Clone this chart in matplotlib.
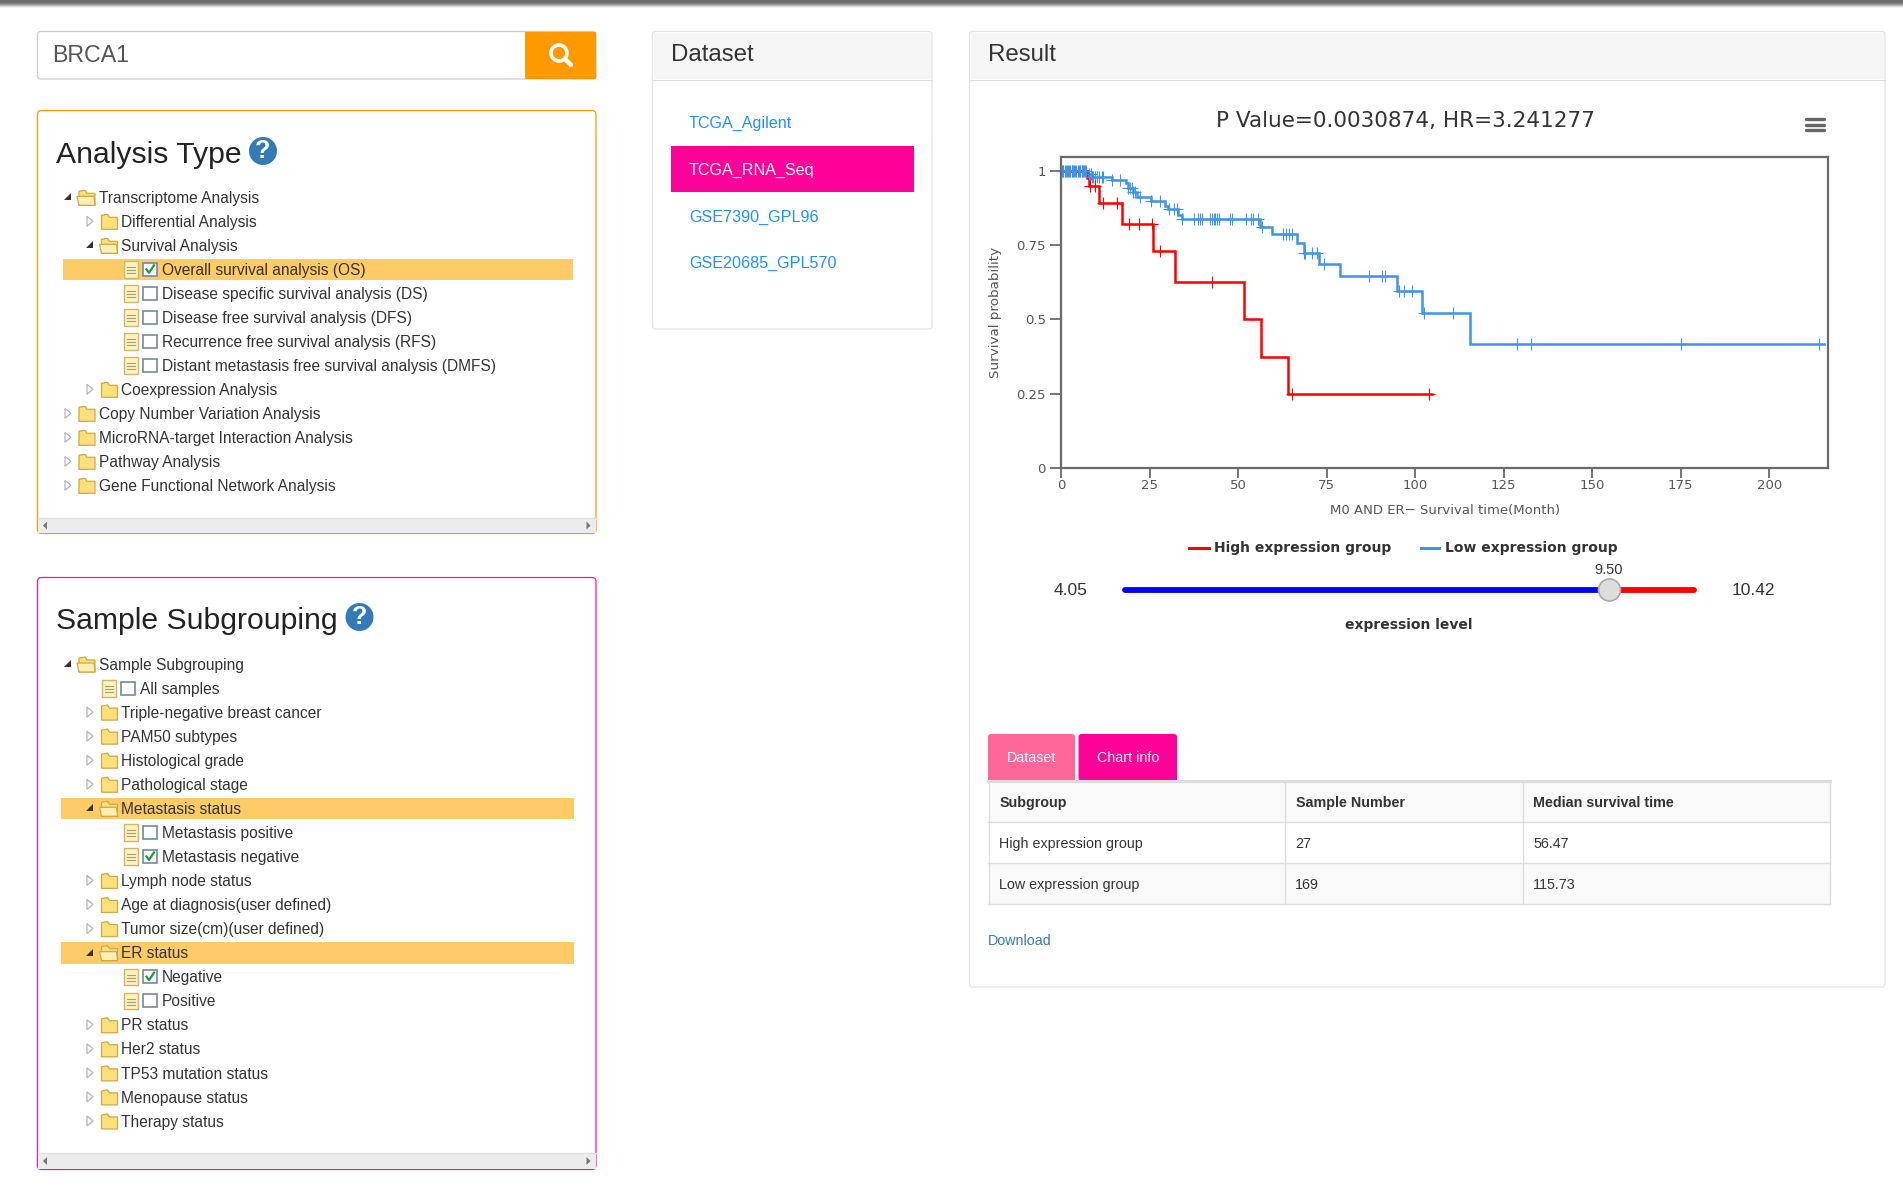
import matplotlib
matplotlib.use("Agg")
import matplotlib.pyplot as plt
from matplotlib.patches import Rectangle, FancyBboxPatch, Polygon, Circle

W, H = 1903, 1188

# survival curves, (month, probability)
high_t = [0, 7.25, 7.8, 10.7, 17.3, 26.0, 32.2, 51.8, 56.4, 64.2, 104.7]
high_s = [1.0, 0.974, 0.949, 0.890, 0.821, 0.730, 0.625, 0.500, 0.375, 0.250, 0.250]
high_cens_t = [8.3, 9.7, 12.0, 15.7, 19.3, 22.0, 25.8, 28.0, 42.7, 65.3, 103.8]

low_t = [0, 7.5, 8.6, 14.3, 18.3, 19.0, 20.2, 21.6, 25.4, 29.4, 30.3, 33.0, 34.2,
         56.2, 59.7, 66.6, 68.5, 73.0, 78.7, 95.0, 102.0, 115.5, 215.4]
low_s = [1.0, 0.990, 0.980, 0.969, 0.957, 0.941, 0.930, 0.910, 0.898, 0.882, 0.870, 0.852, 0.837,
         0.812, 0.786, 0.756, 0.722, 0.685, 0.646, 0.596, 0.521, 0.418, 0.418]
low_cens_t = [0.1, 0.3, 0.5, 0.7, 1.0, 1.3, 1.6, 2.0, 2.3, 2.6, 3.0, 3.2, 3.5, 3.8, 4.0, 4.3, 4.7, 5.0, 5.3,
              5.5, 5.8, 6.0, 6.3, 6.6, 6.8, 7.2,
              8.0, 8.4, 8.8, 9.1, 9.6, 10.3, 10.8, 11.5, 12.0, 14.3, 16.7, 19.0, 19.5, 20.0, 20.4, 20.9, 22.3,
              25.4, 28.0, 30.6, 32.0, 32.9, 34.3, 37.6, 38.6, 39.3, 39.8, 42.1, 42.6, 43.1, 43.5,
              44.0, 44.5, 47.6, 48.2, 52.2, 53.6, 54.3, 55.7, 56.9, 62.6, 63.6, 64.5, 65.3, 68.5,
              69.0, 71.0, 72.4, 74.4, 87.0, 90.6, 91.5, 95.4, 97.0, 99.1, 102.5, 110.7, 128.8,
              132.8, 175.0, 214.1]

x_ticks = [0, 25, 50, 75, 100, 125, 150, 175, 200]
y_ticks = [0, 0.25, 0.5, 0.75, 1]
y_tick_labels = ["0", "0.25", "0.5", "0.75", "1"]

# tree rows: (level, kind, text, highlighted)
analysis_rows = [
    (0, "open", "Transcriptome Analysis", False),
    (1, "closed", "Differential Analysis", False),
    (1, "open", "Survival Analysis", False),
    (2, "on", "Overall survival analysis (OS)", True),
    (2, "off", "Disease specific survival analysis (DS)", False),
    (2, "off", "Disease free survival analysis (DFS)", False),
    (2, "off", "Recurrence free survival analysis (RFS)", False),
    (2, "off", "Distant metastasis free survival analysis (DMFS)", False),
    (1, "closed", "Coexpression Analysis", False),
    (0, "closed", "Copy Number Variation Analysis", False),
    (0, "closed", "MicroRNA-target Interaction Analysis", False),
    (0, "closed", "Pathway Analysis", False),
    (0, "closed", "Gene Functional Network Analysis", False),
]
sample_rows = [
    (0, "open", "Sample Subgrouping", False),
    (1, "off", "All samples", False),
    (1, "closed", "Triple-negative breast cancer", False),
    (1, "closed", "PAM50 subtypes", False),
    (1, "closed", "Histological grade", False),
    (1, "closed", "Pathological stage", False),
    (1, "open", "Metastasis status", True),
    (2, "off", "Metastasis positive", False),
    (2, "on", "Metastasis negative", False),
    (1, "closed", "Lymph node status", False),
    (1, "closed", "Age at diagnosis(user defined)", False),
    (1, "closed", "Tumor size(cm)(user defined)", False),
    (1, "open", "ER status", True),
    (2, "on", "Negative", False),
    (2, "off", "Positive", False),
    (1, "closed", "PR status", False),
    (1, "closed", "Her2 status", False),
    (1, "closed", "TP53 mutation status", False),
    (1, "closed", "Menopause status", False),
    (1, "closed", "Therapy status", False),
]
datasets = ["TCGA_Agilent", "TCGA_RNA_Seq", "GSE7390_GPL96", "GSE20685_GPL570"]
table_head = ["Subgroup", "Sample Number", "Median survival time"]
table_rows = [["High expression group", "27", "56.47"], ["Low expression group", "169", "115.73"]]

plt.rcParams["font.family"] = ["Liberation Sans", "DejaVu Sans"]

fig = plt.figure(figsize=(W / 100, H / 100), dpi=100)
page = fig.add_axes([0, 0, 1, 1])
page.set_xlim(0, W)
page.set_ylim(H, 0)
page.axis("off")


def box(x0, y0, x1, y1, fc="white", ec="none", lw=1, z=1, r=0):
    if r:
        p = FancyBboxPatch((x0, y0), x1 - x0, y1 - y0, boxstyle="round,pad=0,rounding_size=%g" % r,
                           fc=fc, ec=ec, lw=lw, zorder=z)
    else:
        p = Rectangle((x0, y0), x1 - x0, y1 - y0, fc=fc, ec=ec, lw=lw, zorder=z)
    page.add_patch(p)


def label(x, y, s, size=11, color="#333333", ha="left", **kw):
    page.text(x, y + 1.2, s, fontsize=size, color=color, ha=ha, va="center", zorder=5, **kw)


def arrow(x, y, is_open):
    if is_open:
        page.add_patch(Polygon([(x - 4, y + 3), (x + 3, y + 3), (x + 3, y - 4)], fc="#333333", ec="none", zorder=4))
    else:
        page.add_patch(Polygon([(x - 3, y - 5), (x + 3, y), (x - 3, y + 5)], fc="white", ec="#b5b5b5", lw=0.9, zorder=4))


def folder(x, y, is_open):
    page.add_patch(Polygon([(x - 8, y + 8), (x - 8, y - 6), (x - 2, y - 7), (x, y - 4), (x + 8, y - 4), (x + 8, y + 8)],
                           fc="#fde07a", ec="#cfa848", lw=0.9, zorder=4))
    if is_open:
        page.add_patch(Polygon([(x - 8, y + 8), (x - 10, y - 1), (x + 7, y - 1), (x + 8, y + 8)],
                               fc="#fdf0b0", ec="#cfa848", lw=0.9, zorder=4))


def doc(x, y):
    box(x - 7, y - 8, x + 7, y + 8.5, fc="#fdf3bb", ec="#cdb76a", lw=1, z=4)
    for dy in (-2, 1, 4):
        page.plot([x - 4, x + 4], [y + dy, y + dy], color="#a0a080", lw=0.8, zorder=5)


def checkbox(x, y, checked):
    box(x - 7, y - 6.5, x + 7, y + 6.5, fc="white", ec="#6f8aa8", lw=1.2, z=4)
    if checked:
        page.plot([x - 3.5, x - 1, x + 4], [y, y + 3.5, y - 4], color="#1d9a3c", lw=1.6, zorder=5)


def tree(rows, top, step, hl_x0, hl_x1):
    for i, (level, kind, text, hl) in enumerate(rows):
        y = top + i * step
        if hl:
            box(hl_x0, y - 10.5, hl_x1, y + 11, fc="#fecb67", z=2)
        if level == 2 or kind in ("on", "off"):
            dx = 0 if level == 2 else -22
            doc(130.8 + dx, y)
            checkbox(150 + dx, y, kind == "on")
            label(162 + dx, y, text, size=11.2)
        else:
            ax_x, fx, tx = (68, 87, 99) if level == 0 else (90, 109.5, 121)
            arrow(ax_x, y, kind == "open")
            folder(fx, y, kind == "open")
            label(tx, y, text, size=11.2)


def scrollbar(x0, x1, y0, y1):
    box(x0, y0, x1, y1, fc="#ececec", z=2)
    page.plot([x0, x1], [y0, y0], color="#e0e0e0", lw=1, zorder=3)
    page.add_patch(Polygon([(x0 + 5, (y0 + y1) / 2), (x0 + 9, (y0 + y1) / 2 - 4), (x0 + 9, (y0 + y1) / 2 + 4)], fc="#777777", zorder=3))
    page.add_patch(Polygon([(x1 - 5, (y0 + y1) / 2), (x1 - 9, (y0 + y1) / 2 - 4), (x1 - 9, (y0 + y1) / 2 + 4)], fc="#777777", zorder=3))


def help_icon(x, y):
    page.add_patch(Circle((x, y), 14, fc="#337ab7", ec="none", zorder=4))
    page.text(x, y, "?", color="white", fontsize=18, fontweight="bold", ha="center", va="center", zorder=5)


# shadow under the page header
for i, c in enumerate(["#6a6a6a", "#6a6a6a", "#707070", "#808080", "#999999", "#b8b8b8", "#d8d8d8", "#f0f0f0"]):
    box(0, i, W, i + 1, fc=c, z=1)

# search bar
box(37.5, 31.5, 596, 79, fc="white", ec="#cccccc", lw=0.9, r=3)
box(525, 32, 595.5, 78.5, fc="#ff9900", z=2)
label(52, 54.5, "BRCA1", size=16.7, color="#555555")
page.add_patch(Circle((559, 53), 8, fc="none", ec="white", lw=2.6, zorder=4))
page.plot([565, 571], [59, 65], color="white", lw=3.2, zorder=4, solid_capstyle="round")

# analysis type panel
box(37.5, 110.5, 596, 533.5, fc="white", ec="#ff9900", lw=0.9, r=4)
label(56, 154, "Analysis Type", size=21.7, color="#222222")
help_icon(263, 151)
tree(analysis_rows, 197.3, 24.0, 63, 573)
scrollbar(38, 595.5, 518, 533)

# sample subgrouping panel
box(37.5, 577.5, 596, 1169.5, fc="white", ec="#ff1493", lw=0.9, r=4)
label(56, 620, "Sample Subgrouping", size=21.7, color="#222222")
help_icon(359.5, 617)
tree(sample_rows, 664, 24.05, 61, 574)
scrollbar(38, 595.5, 1153, 1169)

# dataset panel
box(652.5, 31.5, 932, 329, fc="white", ec="#e4e4e4", lw=0.9, r=3)
box(653.5, 32.5, 931, 79, fc="#f5f5f5", z=2)
page.plot([653, 932], [79.5, 79.5], color="#dddddd", lw=0.8, zorder=3)
label(671, 54, "Dataset", size=17.3)
for name, y in zip(datasets, [122.5, 169, 216, 262]):
    if name == "TCGA_RNA_Seq":
        box(671, 145.5, 914, 191.5, fc="#ff0099", z=2)
        label(689, y, name, size=11.6, color="white")
    else:
        label(689, y, name, size=11.6, color="#1e90ff")

# result panel
box(969.5, 31.5, 1885, 987, fc="white", ec="#e4e4e4", lw=0.9, r=3)
box(970.5, 32.5, 1884, 79, fc="#f5f5f5", z=2)
page.plot([970, 1885], [79.5, 79.5], color="#dddddd", lw=0.8, zorder=3)
label(988, 54, "Result", size=17.3)

# chart
chart_font = "DejaVu Sans"
label(1405, 119.5, "P Value=0.0030874, HR=3.241277", size=15.5, ha="center", family=chart_font)
for y in (119, 124.5, 130):
    page.plot([1805.5, 1823.5], [y, y], color="#666666", lw=2.4, zorder=4, solid_capstyle="round")

ax = fig.add_axes([1061 / W, 1 - 468.3 / H, (1827.6 - 1061) / W, (468.3 - 156.7) / H], zorder=3)
ax.step(low_t, low_s, where="post", color="#3f94e8", lw=1.8, solid_joinstyle="miter")
ax.step(high_t, high_s, where="post", color="#ff0000", lw=1.8, solid_joinstyle="miter")


def censor_values(ts, ss, cens):
    vals = []
    for c in cens:
        v = ss[0]
        for t, s in zip(ts, ss):
            if t <= c:
                v = s
        vals.append(v)
    return vals


ax.plot(low_cens_t, censor_values(low_t, low_s, low_cens_t), ls="none", marker="+", ms=8.5, mew=0.8, color="#3f94e8", clip_on=False)
ax.plot(high_cens_t, censor_values(high_t, high_s, high_cens_t), ls="none", marker="+", ms=8.5, mew=0.8, color="#ff0000", clip_on=False)
ax.set_xlim(0, 216.5)
ax.set_ylim(0, 1.047)
for s in ax.spines.values():
    s.set_color("#6b6b6b")
    s.set_linewidth(1.6)
ax.set_xticks(x_ticks)
ax.set_yticks(y_ticks, y_tick_labels)
ax.tick_params(axis="both", length=8, width=1.3, color="#6b6b6b", labelcolor="#555555", labelsize=9.5, pad=3)
for t in ax.get_xticklabels() + ax.get_yticklabels():
    t.set_family(chart_font)
ax.tick_params(axis="x", length=7, pad=1)
label(1445, 509.5, "M0 AND ER\u2212 Survival time(Month)", size=9.5, color="#555555", ha="center", family=chart_font)
page.text(996, 312, "Survival probability", fontsize=9.7, color="#555555", rotation=90, ha="center", va="center", family=chart_font, zorder=5)

# legend
page.plot([1189, 1209], [548, 548], color="#ff0000", lw=2.2, zorder=4)
label(1214, 547, "High expression group", size=10, color="#333333", fontweight="bold", family=chart_font)
page.plot([1421, 1439], [548, 548], color="#3f94e8", lw=2.2, zorder=4)
label(1445, 547, "Low expression group", size=10, color="#333333", fontweight="bold", family=chart_font)

# slider
page.plot([1125, 1609], [590, 590], color="#0000ff", lw=4.2, zorder=4, solid_capstyle="round")
page.plot([1609, 1694], [590, 590], color="#ff0000", lw=4.2, zorder=4, solid_capstyle="round")
page.add_patch(Circle((1609.5, 590), 11, fc="#dddddd", ec="#aaaaaa", lw=1.2, zorder=5))
label(1071, 589.5, "4.05", size=12.5, ha="center")
label(1753, 589.5, "10.42", size=12.5, ha="center")
label(1609, 569, "9.50", size=10.5, ha="center")
label(1409, 624, "expression level", size=10, fontweight="bold", ha="center", family=chart_font)

# tabs and table
box(988, 734, 1075, 781, fc="#ff6699", r=3)
box(1078.5, 734, 1177, 781, fc="#ff0099", r=3)
box(988, 776, 1075, 781, fc="#ff6699", z=2)
box(1078.5, 776, 1177, 781, fc="#ff0099", z=2)
label(1032, 757, "Dataset", size=10.3, color="white", ha="center")
label(1128, 757, "Chart info", size=10.3, color="white", ha="center")

box(989, 781, 1830, 822, fc="#f9f9f9", z=2)
box(989, 863, 1830, 904, fc="#f9f9f9", z=2)
for y, lw in zip((780.5, 822, 863, 904), (2.2, 1, 1, 1)):
    page.plot([988, 1830], [y, y], color="#dddddd", lw=lw, zorder=3)
for x in (989, 1284.5, 1523, 1830):
    page.plot([x, x], [781, 904], color="#dddddd", lw=1, zorder=3)
for x, s in zip((999.5, 1295.5, 1533), table_head):
    label(x, 802, s, size=10.3, fontweight="bold")
for row, y in zip(table_rows, (843, 884)):
    for x, s in zip((999, 1295, 1533), row):
        label(x, y, s, size=10.3)
label(988, 940, "Download", size=10.3, color="#337ab7")

fig.savefig("out.png", dpi=100)
